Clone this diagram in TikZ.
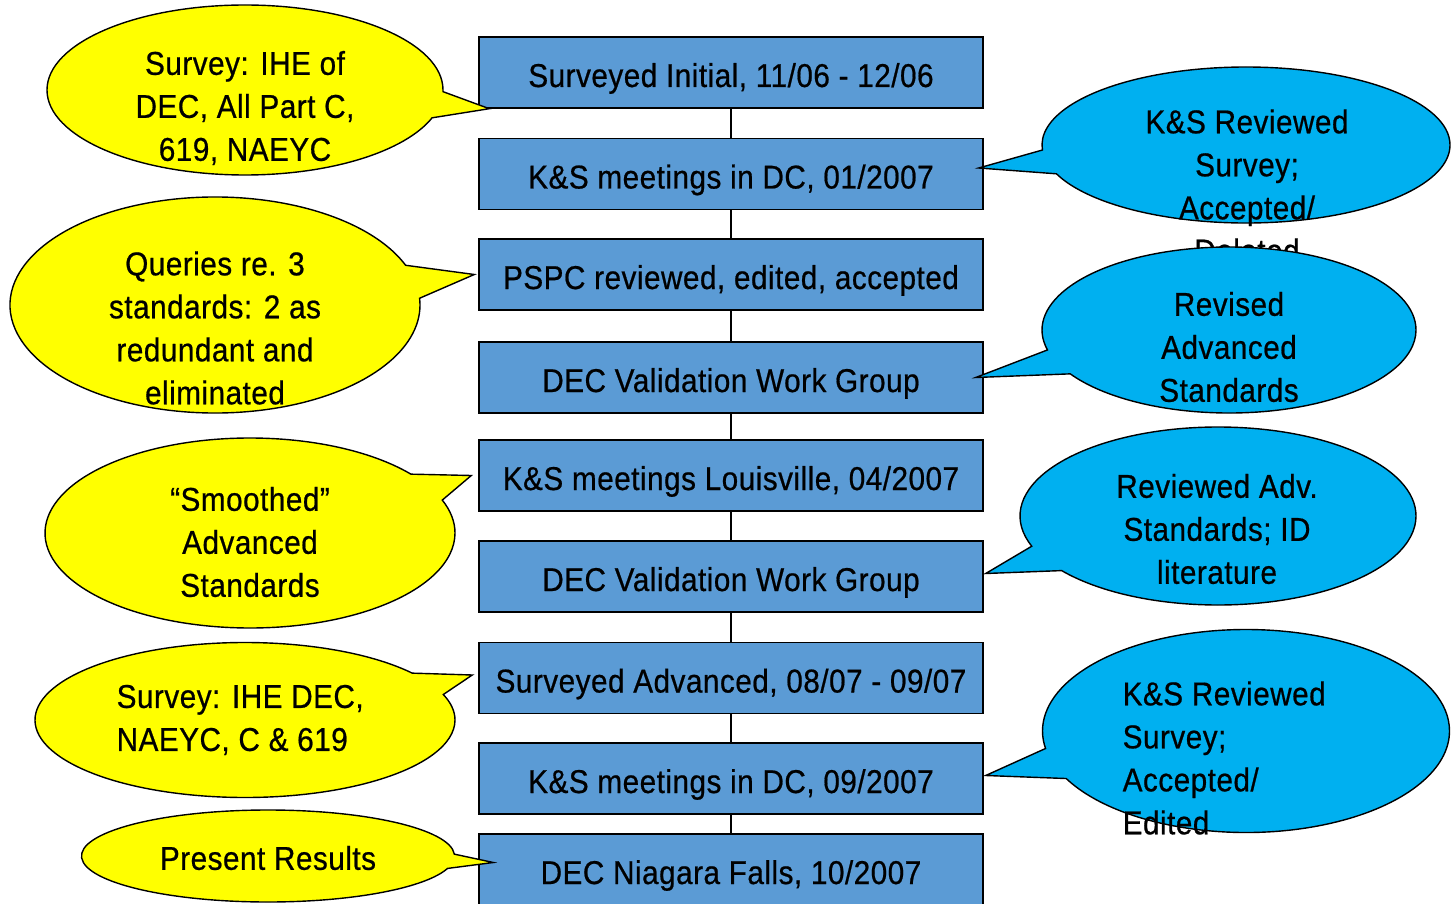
\documentclass[tikz,border=0pt]{standalone}
\usepackage{fontspec}
\setmainfont{Liberation Sans}[FakeStretch=0.9,LetterSpace=1.5,FakeBold=0.6]
\usetikzlibrary{shapes.callouts}
\definecolor{stageblue}{RGB}{91,155,213}
\definecolor{noteyellow}{RGB}{255,255,0}
\definecolor{notecyan}{RGB}{0,176,240}

\begin{document}
\begin{tikzpicture}[x=1pt,y=-1pt,line width=1.4pt,
  stage/.style={draw,fill=stageblue,minimum width=504pt,minimum height=71pt,inner sep=0pt,text height=31pt,text depth=2pt,font=\fontsize{33}{43}\selectfont},
  bubble/.style={ellipse callout,draw,inner sep=0pt,outer sep=0pt,callout pointer arc=18},
  yellownote/.style={bubble,fill=noteyellow},
  cyannote/.style={bubble,fill=notecyan},
  notetext/.style={align=center,inner sep=0pt,font=\fontsize{33}{43}\selectfont}]
\useasboundingbox (0,0) rectangle (1451,904);
% timeline
\node[stage] (s1) at (731,72.5) {Surveyed Initial, 11/06 - 12/06};
\node[stage] (s2) at (731,174) {K\&S meetings in DC, 01/2007};
\node[stage] (s3) at (731,274.5) {PSPC reviewed, edited, accepted};
\node[stage] (s4) at (731,377.5) {DEC Validation Work Group};
\node[stage] (s5) at (731,475.5) {K\&S meetings Louisville, 04/2007};
\node[stage] (s6) at (731,576.5) {DEC Validation Work Group};
\node[stage] (s7) at (731,678) {Surveyed Advanced, 08/07 - 09/07};
\node[stage] (s8) at (731,778.5) {K\&S meetings in DC, 09/2007};
\node[stage] (s9) at (731,869.5) {DEC Niagara Falls, 10/2007};
\foreach \a/\b in {s1/s2,s2/s3,s3/s4,s4/s5,s5/s6,s6/s7,s7/s8,s8/s9}
  \draw (\a) -- (\b);
% left notes
\node[yellownote,minimum width=396pt,minimum height=170pt,callout absolute pointer={([xshift=11pt]s1.south west)}] (q1) at (245,90) {};
\node[notetext] (t1) at (245,108) {Survey: IHE of\\DEC, All Part C,\\619, NAEYC};
\node[yellownote,minimum width=410pt,minimum height=216pt,callout absolute pointer={([xshift=-4pt]s3.west)}] (q2) at (215,305) {};
\node[notetext] (t2) at (215,328) {Queries re. 3\\standards: 2 as\\redundant and\\eliminated};
\node[yellownote,minimum width=410pt,minimum height=190pt,callout absolute pointer={([xshift=-7pt]s5.west)}] (q3) at (250,533) {};
\node[notetext] (t3) at (250,542) {“Smoothed”\\Advanced\\Standards};
\node[yellownote,minimum width=420pt,minimum height=155pt,callout absolute pointer={([xshift=-6pt,yshift=3pt]s7.west)}] (q4) at (245,720) {};
\node[notetext,align=left,anchor=west] (t4) at (116,720) {Survey: IHE DEC,\\NAEYC, C \& 619};
\node[yellownote,minimum width=373pt,minimum height=92pt,callout absolute pointer={([xshift=15pt,yshift=7pt]s9.west)}] (q5) at (268,856) {};
\node[notetext] (t5) at (268,858) {Present Results};
% right notes
\node[cyannote,minimum width=408pt,minimum height=156pt,callout absolute pointer={([xshift=-5pt,yshift=6pt]s2.east)}] (q6) at (1246,145) {};
\node[notetext] (t6) at (1247,186) {K\&S Reviewed\\Survey;\\Accepted/\\Deleted};
\node[cyannote,minimum width=374pt,minimum height=166pt,callout absolute pointer={([xshift=-8pt]s4.east)}] (q7) at (1229,330) {};
\node[notetext] (t7) at (1229,347) {Revised\\Advanced\\Standards};
\node[cyannote,minimum width=396pt,minimum height=178pt,callout absolute pointer={([xshift=2pt,yshift=3pt]s6.east)}] (q8) at (1218,516) {};
\node[notetext] (t8) at (1217,529) {Reviewed Adv.\\Standards; ID\\literature};
\node[cyannote,minimum width=407pt,minimum height=203pt,callout absolute pointer={([xshift=2pt,yshift=3pt]s8.east)}] (q9) at (1246,731) {};
\node[notetext,align=left,anchor=west] (t9) at (1122,758) {K\&S Reviewed\\Survey;\\Accepted/\\Edited};
\end{tikzpicture}
\end{document}
